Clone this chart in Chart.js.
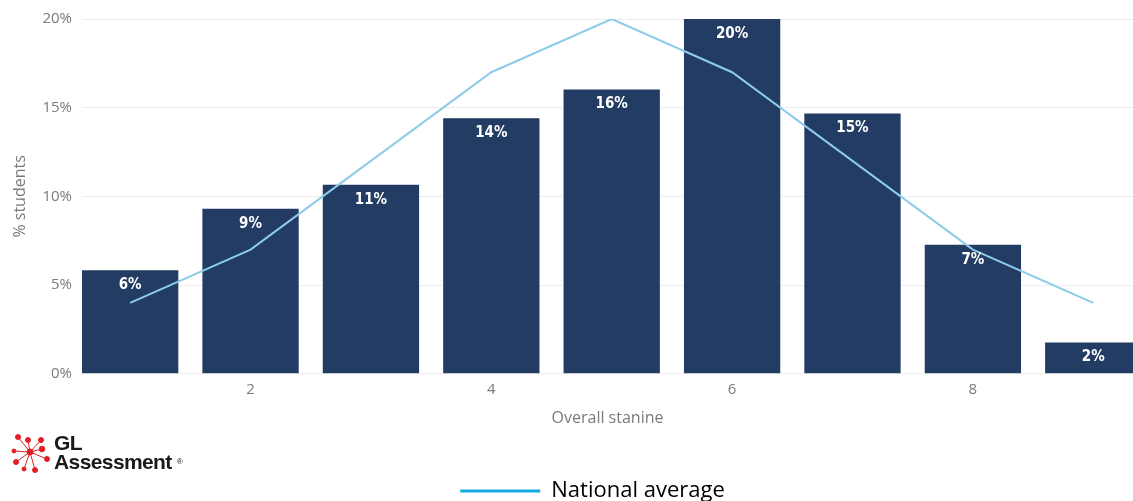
<!DOCTYPE html>
<html>
<head>
<meta charset="utf-8">
<script src="https://cdn.jsdelivr.net/npm/chart.js@4"></script>
<style>
  html, body { margin: 0; padding: 0; background: #fff; overflow: hidden; }
  #wrap { position: relative; width: 1133px; height: 501px; overflow: hidden; }
  #logo { position: absolute; left: 10px; top: 431px; display: flex; align-items: center; }
  #logo .txt { font-family: "Liberation Sans", Arial, sans-serif; font-weight: bold; color: #1a1a1a;
    font-size: 21px; line-height: 19px; letter-spacing: -0.6px; margin-left: 4px; }
  #logo sup { font-size: 8px; font-weight: normal; vertical-align: 5px; margin-left: 5px; }
</style>
</head>
<body>
<div id="wrap">
  <canvas id="myChart" width="1133" height="512"></canvas>
  <div id="logo">
    <svg width="40" height="42" viewBox="-20 -21 40 42">
      <g stroke="#e21f26" stroke-width="1" fill="#e21f26">
        <line x1="0" y1="0" x2="-12" y2="-15"/><circle cx="-12" cy="-15" r="2.5"/>
        <line x1="0" y1="0" x2="-2" y2="-12"/><circle cx="-2" cy="-12" r="2.5"/>
        <line x1="0" y1="0" x2="11" y2="-12"/><circle cx="11" cy="-12" r="2.5"/>
        <line x1="0" y1="0" x2="12" y2="-3"/><circle cx="12" cy="-3" r="2.8"/>
        <line x1="0" y1="0" x2="17" y2="7"/><circle cx="17" cy="7" r="2.5"/>
        <line x1="0" y1="0" x2="5" y2="18"/><circle cx="5" cy="18" r="2.5"/>
        <line x1="0" y1="0" x2="-6" y2="17"/><circle cx="-6" cy="17" r="2"/>
        <line x1="0" y1="0" x2="-14" y2="10"/><circle cx="-14" cy="10" r="2.5"/>
        <line x1="0" y1="0" x2="-16" y2="-1"/><circle cx="-16" cy="-1" r="2"/>
        <circle cx="0" cy="0" r="3"/>
      </g>
    </svg>
    <div class="txt">GL<br>Assessment<sup>®</sup></div>
  </div>
</div>
<script>
const stanines = [1, 2, 3, 4, 5, 6, 7, 8, 9];
const studentPct = [5.84, 9.3, 10.65, 14.4, 16.03, 20.0, 14.68, 7.27, 1.77];
const nationalAvg = [4, 7, 12, 17, 20, 17, 12, 7, 4];
const xTicks = [2, 4, 6, 8];
const yTicks = [0, 5, 10, 15, 20];

const tickFont = { family: "'Open Sans', 'DejaVu Sans', sans-serif", size: 15 };

// white percentage labels inside the bars
const barLabels = {
  id: "barLabels",
  afterDatasetsDraw(chart) {
    const meta = chart.getDatasetMeta(1);
    const ctx = chart.ctx;
    ctx.save();
    ctx.fillStyle = "#ffffff";
    ctx.font = "bold 15px 'DejaVu Sans Condensed', 'DejaVu Sans', sans-serif";
    ctx.textAlign = "center";
    ctx.textBaseline = "middle";
    meta.data.forEach((bar, i) => {
      ctx.fillText(Math.round(studentPct[i]) + "%", bar.x, bar.y + 15);
    });
    ctx.restore();
  },
};

// the legend in the original sits a bit right of the canvas centre
const legendShift = {
  id: "legendShift",
  afterLayout(chart) {
    if (chart.legend) chart.legend.left += 52;
  },
};

const ctx = document.getElementById("myChart").getContext("2d");
new Chart(ctx, {
  data: {
    datasets: [
      {
        type: "line",
        label: "National average",
        data: stanines.map((s, i) => ({ x: s, y: nationalAvg[i] })),
        borderColor: "#8ccbea",
        borderWidth: 2,
        pointRadius: 0,
        tension: 0,
        order: 0,
      },
      {
        type: "bar",
        label: "Students",
        data: stanines.map((s, i) => ({ x: s, y: studentPct[i] })),
        backgroundColor: "#233c63",
        barPercentage: 0.8,
        categoryPercentage: 1,
        order: 1,
      },
    ],
  },
  options: {
    responsive: false,
    animation: false,
    layout: { padding: { top: 13, left: 0, right: 0, bottom: 0 } },
    scales: {
      x: {
        type: "linear",
        offset: false,
        min: 0.6,
        max: 9.33,
        afterBuildTicks: (scale) => {
          scale.ticks = xTicks.map((v) => ({ value: v }));
        },
        grid: { display: false, drawTicks: false, tickLength: 0 },
        border: { display: false },
        ticks: { font: tickFont, color: "#7a7a7a", padding: 7, maxRotation: 0 },
        title: {
          display: true,
          text: "Overall stanine",
          font: { family: tickFont.family, size: 16 },
          color: "#7a7a7a",
          padding: { top: 3, bottom: 52 },
        },
      },
      y: {
        min: 0,
        max: 20,
        afterBuildTicks: (scale) => {
          scale.ticks = yTicks.map((v) => ({ value: v }));
        },
        afterFit: (scale) => {
          scale.width = 82;
        },
        grid: { color: "#ededed", drawTicks: false },
        border: { display: false },
        ticks: {
          font: tickFont,
          color: "#7a7a7a",
          padding: 10,
          callback: (v) => v + "%",
        },
        title: {
          display: true,
          text: "% students",
          font: { family: tickFont.family, size: 16 },
          color: "#7a7a7a",
          padding: { top: 11, bottom: 0 },
        },
      },
    },
    plugins: {
      tooltip: { enabled: false },
      legend: {
        position: "bottom",
        labels: {
          boxWidth: 80,
          boxHeight: 3,
          padding: 0,
          color: "#222222",
          font: { family: "'Open Sans', Arial, sans-serif", size: 22 },
          generateLabels: () => [
            {
              text: "National average",
              fillStyle: "#14a9e1",
              strokeStyle: "#14a9e1",
              lineWidth: 0,
              datasetIndex: 0,
            },
          ],
        },
      },
    },
  },
  plugins: [barLabels, legendShift],
});
</script>
</body>
</html>
